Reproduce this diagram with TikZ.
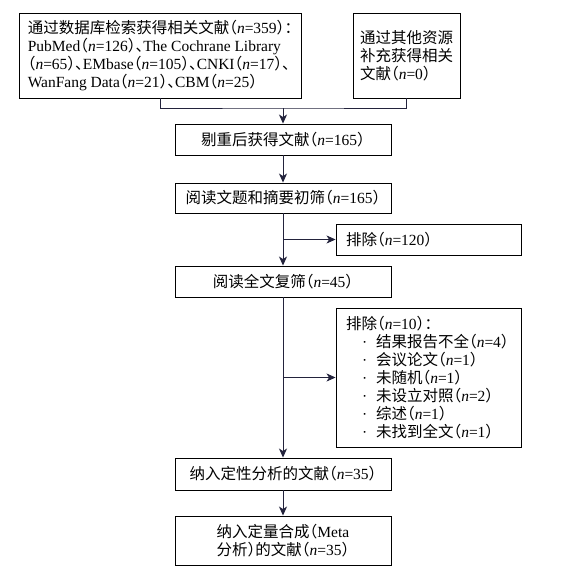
\documentclass[tikz,border=0pt]{standalone}
\usepackage{fontspec}
\setmainfont{Liberation Serif}
\newfontfamily\cjk[RawFeature=+halt]{Noto Sans CJK SC}
\usetikzlibrary{arrows.meta}
\definecolor{linec}{RGB}{35,35,60}
\newcommand\Z[1]{{\cjk #1}}
\newcommand\nn[1]{\Z{（}\textit{n}=#1\Z{）}}
\newcommand\itm[1]{\makebox[30pt][l]{\hspace{16pt}·}#1}
\tikzset{
  box/.style={draw=black, line width=0.9pt, inner sep=0pt},
  mbox/.style={box, minimum width=216pt, align=center},
  exbox/.style={box, minimum width=185pt, inner xsep=10pt, text width=165pt, align=left},
  conn/.style={draw=linec, line width=0.9pt},
  arr/.style={conn, -{Stealth[length=9pt,width=8pt,inset=2.5pt]}}
}
\begin{document}
\begin{tikzpicture}[x=1pt,y=-1pt,font=\fontsize{15.5}{18}\selectfont]
\useasboundingbox (0,0) rectangle (562,574);
\node[box, minimum width=282pt, minimum height=85pt, align=left] (b1) at (160,55.5)
  {\Z{通过数据库检索获得相关文献}\nn{359}\Z{：}\\
   PubMed\nn{126}\Z{、}The Cochrane Library\\
   \nn{65}\Z{、}EMbase\nn{105}\Z{、}CNKI\nn{17}\Z{、}\\
   WanFang Data\nn{21}\Z{、}CBM\nn{25}};
\node[box, minimum width=107pt, minimum height=85pt, align=left] (b2) at (406.5,55.5)
  {\Z{通过其他资源}\\\Z{补充获得相关}\\\Z{文献}\nn{0}};
\node[mbox, minimum height=31pt] (b3) at (283,139.5) {\Z{剔重后获得文献}\nn{165}};
\node[mbox, minimum height=30pt] (b4) at (283,198) {\Z{阅读文题和摘要初筛}\nn{165}};
\node[exbox, minimum height=31pt] (e1) at (428.5,239.5) {\Z{排除}\nn{120}};
\node[mbox, minimum height=31pt] (b5) at (283,281.5) {\Z{阅读全文复筛}\nn{45}};
\node[exbox, minimum height=139pt] (e2) at (428.5,377.5)
  {\Z{排除}\nn{10}\Z{：}\\
   \itm{\Z{结果报告不全}\nn{4}}\\
   \itm{\Z{会议论文}\nn{1}}\\
   \itm{\Z{未随机}\nn{1}}\\
   \itm{\Z{未设立对照}\nn{2}}\\
   \itm{\Z{综述}\nn{1}}\\
   \itm{\Z{未找到全文}\nn{1}}};
\node[mbox, minimum height=32pt] (b6) at (283,474) {\Z{纳入定性分析的文献}\nn{35}};
\node[mbox, minimum height=49pt] (b7) at (283,540.5) {\Z{纳入定量合成（}Meta\\\Z{分析）的文献}\nn{35}};
\coordinate (j) at (283,108);
\draw[conn] (b1.south) |- (j) -| (b2.south);
\draw[arr] (j) -- (b3.north);
\draw[arr] (b3) -- (b4);
\draw[arr] (b4) -- (b5);
\draw[arr] (b4.south |- e1.west) -- (e1.west);
\draw[arr] (b5) -- (b6);
\draw[arr] (b5.south |- e2.west) -- (e2.west);
\draw[arr] (b6) -- (b7);
\end{tikzpicture}
\end{document}
